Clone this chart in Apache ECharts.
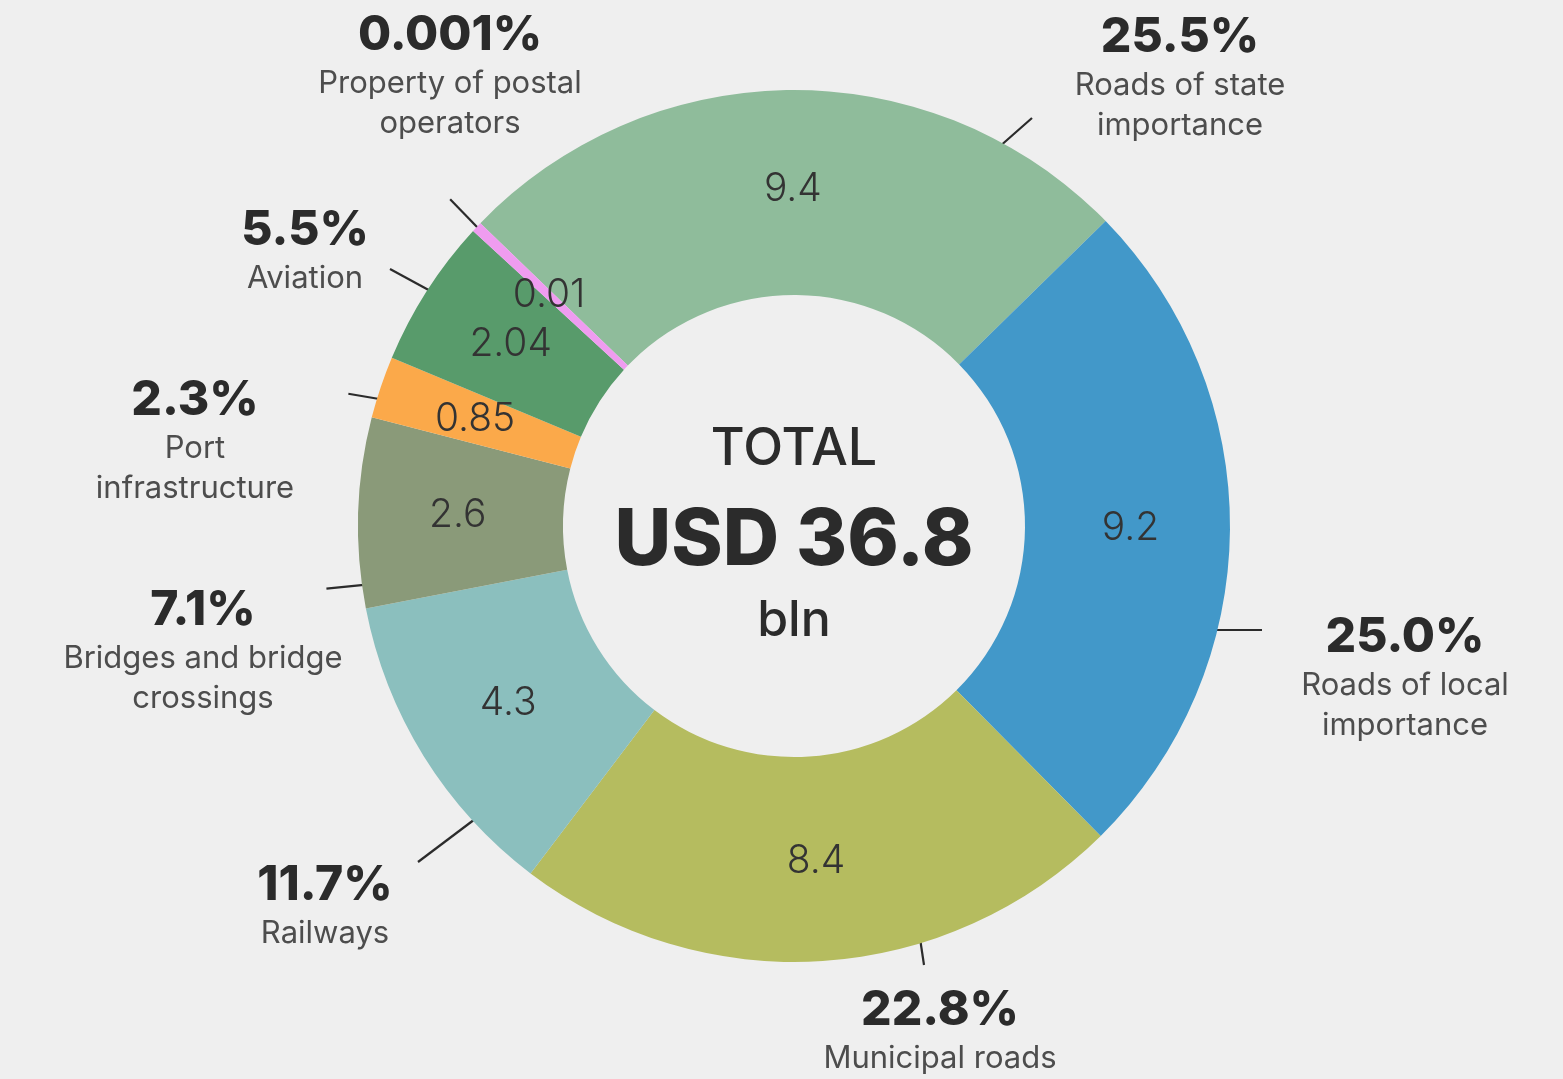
<!DOCTYPE html>
<html>
<head>
<meta charset="utf-8">
<script src="https://cdn.jsdelivr.net/npm/echarts@6/dist/echarts.min.js"></script>
<style>
html,body{margin:0;padding:0;background:#efefef;}
#c{width:1563px;height:1079px;}
</style>
</head>
<body>
<div id="c"></div>
<script>
// ---- data ----
const categories = ['Roads of state\nimportance', 'Roads of local\nimportance', 'Municipal roads', 'Railways',
  'Bridges and bridge\ncrossings', 'Port\ninfrastructure', 'Aviation', 'Property of postal\noperators'];
const values = [9.4, 9.2, 8.4, 4.3, 2.6, 0.85, 2.04, 0.01];
const shares = ['25.5%', '25.0%', '22.8%', '11.7%', '7.1%', '2.3%', '5.5%', '0.001%'];
const totalLines = ['TOTAL', 'USD 36.8', 'bln'];

// ---- styles / layout ----
const colors = ['#8fbc9b', '#4298c9', '#b5bc5f', '#8bbfbe', '#8a9a79', '#fba94a', '#589b6b', '#ef9cf0'];
const FONT = 'Inter, "Noto Sans", sans-serif';
const CX = 794, CY = 526;
// [label centre x, label top y, leader start x, leader start y, leader end x, leader end y]
const labelSpots = [
  [1180, 10, 990, 155, 1032, 118],
  [1405, 610, 1195, 630, 1262, 630],
  [940, 983, 918, 925, 924, 965],
  [325, 858, 487, 810, 418, 862],
  [203, 583, 388, 593, 328, 599],
  [195, 373, 387, 465, 334, 456],
  [305, 203, 447, 300, 390, 269],
  [450, 8, 520, 193, 490, 162]
];

const chart = echarts.init(document.getElementById('c'));

const pieData = categories.map((n, i) => ({ name: n, value: values[i], itemStyle: { color: colors[i] } }));
const ghostData = categories.map((n, i) => ({ name: n, value: values[i], share: shares[i] }));

function clampAngle(a, sa, ea, m) {
  const mid = (sa + ea) / 2;
  while (a < mid - Math.PI) a += 2 * Math.PI;
  while (a > mid + Math.PI) a -= 2 * Math.PI;
  const mm = Math.min(m, (ea - sa) / 2);
  return Math.max(sa + mm, Math.min(ea - mm, a));
}

const option = {
  backgroundColor: '#efefef',
  animation: false,
  series: [
    {
      type: 'pie',
      radius: [231, 436],
      center: [CX, CY],
      startAngle: 136,
      minAngle: 1.4,
      silent: true,
      avoidLabelOverlap: false,
      data: pieData,
      label: {
        show: true,
        position: 'inside',
        formatter: '{c}',
        fontFamily: FONT,
        fontSize: 39,
        fontWeight: 300,
        color: '#333333'
      },
      labelLine: { show: false }
    },
    {
      type: 'pie',
      radius: [231, 436],
      center: [CX, CY],
      startAngle: 136,
      minAngle: 1.4,
      silent: true,
      avoidLabelOverlap: false,
      data: ghostData,
      itemStyle: { color: 'rgba(0,0,0,0)' },
      label: {
        show: true,
        position: 'outside',
        formatter: function (p) {
          const lines = p.name.split('\n').map(t => '{n|' + t + '}');
          return '{p|' + p.data.share + '}\n' + lines.join('\n');
        },
        rich: {
          p: { fontFamily: FONT, fontSize: 48, fontWeight: 800, color: '#2b2b2b', lineHeight: 56, align: 'center' },
          n: { fontFamily: FONT, fontSize: 31, fontWeight: 400, color: '#4d4d4d', lineHeight: 40, align: 'center' }
        }
      },
      labelLine: { show: true, length: 20, length2: 10, lineStyle: { color: '#2b2b2b', width: 2.2 } },
      labelLayout: function (p) {
        const s = labelSpots[p.dataIndex];
        let x0 = s[2], y0 = s[3];
        let lay = null;
        try { lay = chart.getModel().getSeriesByIndex(1).getData().getItemLayout(p.dataIndex); } catch (e) { lay = null; }
        if (lay && lay.startAngle != null) {
          const cx = lay.cx, cy = lay.cy;
          const r = Math.hypot(s[2] - cx, s[3] - cy);
          const sa = Math.min(lay.startAngle, lay.endAngle), ea = Math.max(lay.startAngle, lay.endAngle);
          const a = clampAngle(Math.atan2(s[3] - cy, s[2] - cx), sa, ea, 3 * Math.PI / 180);
          x0 = cx + r * Math.cos(a);
          y0 = cy + r * Math.sin(a);
        }
        const x1 = x0 + (s[4] - s[2]), y1 = y0 + (s[5] - s[3]);
        return {
          x: s[0], y: s[1], align: 'center', verticalAlign: 'top',
          labelLinePoints: [[x0, y0], [(x0 + x1) / 2, (y0 + y1) / 2], [x1, y1]]
        };
      }
    }
  ],
  graphic: [
    { type: 'text', x: CX, y: 449, silent: true,
      style: { text: totalLines[0], fontFamily: FONT, fontSize: 52, fontWeight: 500, fill: '#2b2b2b', align: 'center', verticalAlign: 'middle' } },
    { type: 'text', x: CX, y: 542, silent: true,
      style: { text: totalLines[1], fontFamily: FONT, fontSize: 78, fontWeight: 800, fill: '#2b2b2b', align: 'center', verticalAlign: 'middle' } },
    { type: 'text', x: CX, y: 621, silent: true,
      style: { text: totalLines[2], fontFamily: FONT, fontSize: 50, fontWeight: 500, fill: '#2b2b2b', align: 'center', verticalAlign: 'middle' } }
  ]
};
chart.setOption(option);
</script>
</body>
</html>
